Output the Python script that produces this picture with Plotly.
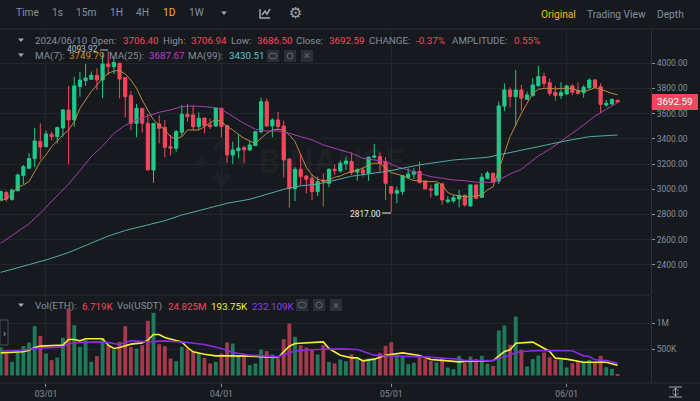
import pandas as pd
import plotly.graph_objects as go

W, H = 700, 401
BG = "#161A1E"
GRID = "#22262B"
LINE = "#2B2F36"
GREY = "#848E9C"
UP = "#1FC98B"
DOWN = "#F6465D"
FONT = "Roboto"

# Daily ETH/USDT candles
dates = pd.date_range("2024-02-22", "2024-06-10").strftime("%Y-%m-%d").tolist()
opens = [2914, 2973, 2920, 2989, 3108, 3166, 3243, 3380, 3338, 3436, 3417, 3486, 3629, 3550, 3815, 3862, 3873, 3904, 3867, 3994,
         3973, 4000, 3886, 3743, 3523, 3642, 3523, 3153, 3518, 3491, 3338, 3325, 3452, 3595, 3590, 3497, 3565, 3510, 3502, 3642,
         3505, 3272, 3306, 3330, 3312, 3346, 3457, 3695, 3502, 3550, 3502, 3240, 3005, 3158, 3105, 3087, 2981, 3073, 3047, 3158,
         3145, 3202, 3219, 3137, 3153, 3126, 3254, 3259, 3219, 3021, 2968, 2981, 3095, 3119, 3140, 3066, 3002, 2954, 3042, 2901,
         2907, 2923, 2952, 2867, 3034, 2936, 3086, 3126, 3065, 3660, 3788, 3735, 3788, 3714, 3743, 3822, 3894, 3846, 3769, 3743,
         3756, 3820, 3782, 3767, 3806, 3867, 3814, 3669, 3677, 3706.40]
highs = [2988, 2988, 3002, 3126, 3192, 3285, 3484, 3523, 3465, 3457, 3497, 3637, 3820, 3894, 3933, 3994, 3934, 3960, 4085, 4093.92,
         4053, 4005, 3886, 3780, 3677, 3642, 3597, 3523, 3587, 3550, 3431, 3470, 3669, 3677, 3661, 3610, 3565, 3563, 3650, 3648,
         3505, 3378, 3436, 3346, 3386, 3457, 3727, 3722, 3563, 3613, 3544, 3240, 3174, 3280, 3113, 3121, 3100, 3126, 3166, 3198,
         3227, 3259, 3293, 3166, 3179, 3259, 3359, 3290, 3254, 3021, 3021, 3113, 3166, 3166, 3219, 3066, 3034, 3047, 3052, 2946,
         2954, 2994, 2952, 3039, 3034, 3126, 3145, 3134, 3695, 3841, 3809, 3947, 3828, 3775, 3880, 3978, 3925, 3880, 3820, 3849,
         3828, 3836, 3849, 3828, 3880, 3875, 3841, 3708, 3719, 3706.94]
lows = [2914, 2901, 2909, 2981, 3041, 3166, 3174, 3237, 3333, 3386, 3364, 3417, 3200, 3497, 3735, 3820, 3867, 3788, 3722, 3907,
        3915, 3722, 3571, 3470, 3412, 3449, 3153, 3052, 3364, 3253, 3267, 3298, 3417, 3536, 3470, 3470, 3444, 3478, 3497, 3412,
        3206, 3200, 3248, 3206, 3304, 3346, 3444, 3497, 3412, 3470, 3094, 2854, 2906, 3026, 2967, 2914, 2946, 2862, 3015, 3113,
        3132, 3153, 3113, 3068, 3100, 3066, 3245, 3140, 2915, 2817, 2888, 2954, 3079, 3079, 3047, 3002, 2933, 2946, 2875, 2888,
        2893, 2856, 2862, 2862, 2920, 2928, 3078, 3055, 3042, 3621, 3650, 3497, 3624, 3708, 3735, 3814, 3809, 3740, 3703, 3716,
        3748, 3748, 3753, 3727, 3793, 3801, 3603, 3656, 3669, 3686.50]
closes = [2981, 2920, 2994, 3113, 3179, 3243, 3383, 3335, 3439, 3417, 3489, 3629, 3550, 3820, 3867, 3883, 3904, 3867, 3994, 3973,
          4005, 3875, 3735, 3523, 3642, 3523, 3153, 3523, 3483, 3333, 3325, 3457, 3595, 3576, 3497, 3563, 3505, 3497, 3642, 3497,
          3272, 3312, 3327, 3312, 3351, 3457, 3695, 3502, 3550, 3497, 3232, 3007, 3158, 3100, 3079, 2981, 3060, 3060, 3158, 3148,
          3206, 3224, 3132, 3153, 3126, 3254, 3264, 3206, 3047, 2968, 2989, 3108, 3121, 3140, 3052, 3002, 2994, 3042, 2915, 2915,
          2933, 2949, 2875, 3034, 2928, 3095, 3128, 3060, 3661, 3788, 3735, 3788, 3722, 3748, 3828, 3894, 3841, 3761, 3743, 3767,
          3820, 3769, 3761, 3809, 3867, 3809, 3674, 3682, 3714, 3692.59]

# Moving averages, read at the candle indices where the line was legible
ma7 = [2906, 2925, 2962, 3012, 3034, 3060, 3139, 3219, 3272, 3338, 3383, 3431, 3470, 3536, 3642, 3708, 3775, 3828, 3881, 3920,
       3939, 3941, 3915, 3867, 3801, 3708, 3629, 3550, 3510, 3470, 3417, 3399, 3417, 3470, 3470, 3470, 3497, 3529, 3555, 3536,
       3497, 3470, 3436, 3404, 3383, 3364, 3404, 3444, 3470, 3476, 3470, 3431, 3378, 3272, 3174, 3113, 3079, 3066, 3073, 3095,
       3105, 3126, 3140, 3148, 3166, 3193, 3206, 3206, 3166, 3132, 3119, 3108, 3087, 3068, 3068, 3060, 3060, 3060, 3034, 2973,
       2954, 2946, 2941, 2941, 2946, 2954, 2994, 3020, 3153, 3285, 3417, 3510, 3603, 3682, 3761, 3793, 3801, 3801, 3796, 3801,
       3801, 3801, 3783, 3775, 3788, 3806, 3793, 3775, 3761, 3749.79]
ma25_idx = [0, 2, 5, 7, 9, 10, 12, 14, 16, 18, 20, 22, 24, 26, 28, 30, 32, 34, 36, 38, 39, 41, 43, 45, 47, 49, 51, 53, 55, 57, 59,
            62, 64, 66, 68, 70, 72, 74, 76, 78, 80, 82, 84, 86, 87, 88, 90, 92, 94, 95, 97, 99, 101, 103, 105, 107, 109]
ma25 = [2571, 2630, 2725, 2810, 2905, 2950, 3041, 3147, 3259, 3343, 3444, 3507, 3550, 3581, 3611, 3630, 3656, 3661, 3656, 3648, 3634,
        3576, 3523, 3476, 3462, 3462, 3444, 3417, 3391, 3351, 3325, 3285, 3246, 3232, 3219, 3179, 3153, 3126, 3100, 3087, 3073, 3068,
        3055, 3055, 3052, 3073, 3121, 3158, 3232, 3264, 3317, 3378, 3444, 3510, 3581, 3634, 3687.67]
ma99_idx = [0, 5, 8, 12, 15, 19, 22, 26, 29, 32, 35, 40, 44, 47, 50, 53, 56, 58, 62, 68, 74, 80, 86, 88, 92, 96, 100, 104, 109]
ma99 = [2340, 2405, 2438, 2497, 2552, 2628, 2672, 2720, 2750, 2795, 2832, 2888, 2920, 2959, 2999, 3026, 3041, 3060, 3103, 3140, 3193,
        3232, 3253, 3272, 3311, 3351, 3385, 3417, 3430.51]

# Volume pane, values in thousands
volume = [534, 420, 261, 432, 560, 630, 941, 757, 420, 293, 343, 719, 1278, 960, 547, 674, 261, 369, 706, 579,
          496, 642, 941, 547, 515, 579, 1043, 1196, 598, 560, 324, 273, 547, 515, 464, 420, 337, 229, 261, 420,
          630, 610, 375, 356, 197, 229, 496, 464, 401, 324, 693, 992, 738, 579, 534, 496, 401, 579, 261, 229,
          305, 273, 407, 324, 273, 324, 324, 432, 566, 636, 388, 356, 216, 242, 369, 312, 280, 248, 337, 153,
          121, 375, 235, 362, 312, 375, 223, 184, 859, 954, 585, 1126, 490, 172, 312, 382, 439, 350, 299, 299,
          153, 235, 280, 248, 299, 248, 375, 159, 127, 30]
vol_fast_idx = [0, 2, 4, 5, 6, 7, 9, 11, 12, 13, 14, 15, 17, 18, 19, 20, 21, 23, 25, 26, 27, 28, 29, 31, 32, 33, 34, 36, 38, 40, 41, 44,
                49, 50, 51, 52, 54, 57, 58, 60, 62, 63, 64, 66, 68, 71, 74, 76, 79, 81, 82, 87, 89, 90, 91, 94, 97, 98, 100, 103, 107, 109]
vol_fast = [432, 445, 452, 483, 534, 560, 566, 579, 687, 687, 661, 700, 700, 700, 579, 515, 534, 598, 623, 674, 782, 782, 725, 661, 642, 534,
            452, 407, 375, 375, 375, 369, 343, 452, 560, 610, 623, 642, 515, 388, 337, 337, 280, 312, 388, 432, 382, 305, 280, 261, 267, 286,
            458, 490, 617, 636, 458, 331, 312, 254, 254, 193.75]
vol_slow_idx = [0, 4, 6, 9, 11, 12, 14, 17, 19, 21, 23, 26, 29, 33, 36, 39, 40, 41, 44, 49, 51, 53, 57, 60, 63, 66, 68, 71, 75, 79, 81, 82,
                87, 89, 90, 91, 94, 97, 101, 103, 104, 105, 107, 109]
vol_slow = [464, 483, 515, 534, 547, 610, 630, 642, 630, 591, 661, 642, 661, 630, 591, 515, 470, 439, 388, 356, 439, 483, 502, 509, 496, 388,
            375, 369, 356, 324, 312, 286, 286, 362, 382, 445, 471, 477, 471, 375, 362, 299, 286, 232.109]

price_ticks = [2400, 2600, 2800, 3000, 3200, 3400, 3600, 3800, 4000]
price_labels = ["2400.00", "2600.00", "2800.00", "3000.00", "3200.00", "3400.00", "3600.00", "3800.00", "4000.00"]
vol_ticks = [500, 1000]
vol_labels = ["500K", "1M"]
date_ticks = ["2024-03-01", "2024-04-01", "2024-05-01", "2024-06-01"]
date_labels = ["03/01", "04/01", "05/01", "06/01"]


def at(idx):
    return [dates[i] for i in idx]


def px(x):
    return x / W


def py(y):
    return 1 - y / H


annotations = []
shapes = []


def label(x, y, text, color=GREY, size=9.8, anchor="left", family=FONT, bold=False):
    if bold:
        text = f"<b>{text}</b>"
    annotations.append(dict(x=px(x), y=py(y), xref="paper", yref="paper", text=text, showarrow=False,
                            xanchor=anchor, yanchor="middle", borderpad=0,
                            font=dict(color=color, size=size, family=family)))


def hline(x0, x1, y, color=LINE, width=1):
    shapes.append(dict(type="line", xref="paper", yref="paper", x0=px(x0), x1=px(x1), y0=py(y), y1=py(y),
                       line=dict(color=color, width=width)))


def poly(points, fill=None, color=None, width=1, closed=True):
    d = "M" + "L".join(f"{px(a):.5f},{py(b):.5f}" for a, b in points) + ("Z" if closed else "")
    shapes.append(dict(type="path", xref="paper", yref="paper", path=d, layer="below" if fill == WM else "above",
                       fillcolor=fill if fill else "rgba(0,0,0,0)", line=dict(color=color if color else "rgba(0,0,0,0)", width=width)))


def box(x0, y0, x1, y1, fill=None, color=None):
    shapes.append(dict(type="rect", xref="paper", yref="paper", x0=px(x0), x1=px(x1), y0=py(y0), y1=py(y1),
                       fillcolor=fill if fill else "rgba(0,0,0,0)", line=dict(color=color if color else "rgba(0,0,0,0)", width=1)))


def triangle(cx, cy, color="#A0A7B2"):
    poly([(cx - 3, cy - 1.5), (cx + 3, cy - 1.5), (cx, cy + 2)], fill=color)


def icon_buttons(x_start, y):
    for n, glyph in enumerate(["eye", "gear", "x"]):
        x0 = x_start + n * 17
        box(x0, y - 6, x0 + 12, y + 6, fill="#2B2F36")
        if glyph == "eye":
            shapes.append(dict(type="circle", xref="paper", yref="paper", x0=px(x0 + 2), x1=px(x0 + 10), y0=py(y - 3), y1=py(y + 3),
                               line=dict(color="#5E6673", width=1)))
        elif glyph == "gear":
            shapes.append(dict(type="circle", xref="paper", yref="paper", x0=px(x0 + 3), x1=px(x0 + 9), y0=py(y - 3), y1=py(y + 3),
                               line=dict(color="#5E6673", width=1)))
        else:
            label(x0 + 6, y, "×", color="#5E6673", size=11, anchor="center")


WM = "#1D2126"

# Toolbar
for x, t in [(15, "Time"), (51, "1s"), (75, "15m"), (109, "1H"), (135, "4H"), (188, "1W")]:
    label(x, 13, t, size=10.2)
label(162, 13, "1D", color="#F0B90B", size=10.2)
triangle(224, 13)
poly([(260, 9), (260, 18), (270, 18)], color="#A0A7B2", width=1.5, closed=False)
poly([(262, 15), (265, 11), (267, 14), (270, 9)], color="#A0A7B2", width=1.5, closed=False)
label(295, 13, "⚙", color="#A0A7B2", size=15, anchor="center", family="DejaVu Sans")
label(540, 14, "Original", color="#F0B90B", size=10.2)
label(586, 14, "Trading View", size=10.2)
label(656, 14, "Depth", size=10.2)

# Legend rows
triangle(21, 40, color="#A0A7B2")
for x, t, c in [(33.5, "2024/06/10", GREY), (90, "Open:", GREY), (122, "3706.40", DOWN), (162, "High:", GREY), (190, "3706.94", DOWN),
                (230, "Low:", GREY), (256, "3686.50", DOWN), (295, "Close:", GREY), (328, "3692.59", DOWN), (368, "CHANGE:", GREY),
                (415, "-0.37%", DOWN), (451, "AMPLITUDE:", GREY), (513, "0.55%", DOWN)]:
    label(x, 41, t, color=c)
triangle(21, 55, color="#A0A7B2")
for x, t, c in [(33.5, "MA(7):", GREY), (68, "3749.79", "#C98D2F"), (108, "MA(25):", GREY), (148, "3687.67", "#B93FC4"),
                (187, "MA(99):", GREY), (228, "3430.51", "#5CC4C9")]:
    label(x, 56, t, color=c)
icon_buttons(267, 56)
triangle(21, 305, color="#A0A7B2")
for x, t, c in [(33.5, "Vol(ETH):", GREY), (81, "6.719K", DOWN), (116, "Vol(USDT)", GREY), (167, "24.825M", DOWN),
                (210, "193.75K", "#F3EE3A"), (250.7, "232.109K", "#8C3DF0")]:
    label(x, 306, t, color=c)
icon_buttons(296, 305)

# High and low call-outs
label(66, 49, "4093.92", color="#B7BDC6", size=8.4)
hline(100, 108, 50, color="#B7BDC6")
label(349, 214, "2817.00", color="#EAECEF", size=8.4)
hline(382, 391, 213, color="#EAECEF")

# Last price tag
box(652, 94, 698, 110, fill=DOWN)
label(675, 102, "3692.59", color="#FFFFFF", size=9.8, anchor="center")

# Frame lines
hline(0, W, 29)
hline(0, 651, 295)
hline(0, W, 383)

# Side handle and axis reset icon
box(0, 320, 8, 345, fill=BG, color="#474D57")
label(4, 333, "›", color="#A0A7B2", size=10, anchor="center")
hline(669, 682, 387, color="#A0A7B2")
hline(669, 682, 397, color="#A0A7B2")
poly([(675.5, 388), (675.5, 396)], color="#A0A7B2", closed=False)
poly([(672.5, 391), (675.5, 388), (678.5, 391)], color="#A0A7B2", closed=False)
poly([(672.5, 393), (675.5, 396), (678.5, 393)], color="#A0A7B2", closed=False)

# Watermark
poly([(222, 137), (232, 147), (227, 152), (222, 147), (217, 152), (212, 147)], fill=WM)
poly([(222, 156), (228, 162), (222, 168), (216, 162)], fill=WM)
poly([(202, 156), (208, 162), (202, 168), (196, 162)], fill=WM)
poly([(242, 156), (248, 162), (242, 168), (236, 162)], fill=WM)
poly([(222, 187), (212, 177), (217, 172), (222, 177), (227, 172), (232, 177)], fill=WM)
label(258, 162, "BINANCE", color="rgba(255,255,255,0.04)", size=32, family="Inter", bold=True)

fig = go.Figure()
fig.add_trace(go.Candlestick(
    x=dates, open=opens, high=highs, low=lows, close=closes, xaxis="x", yaxis="y",
    increasing=dict(line=dict(color=UP, width=1), fillcolor=UP),
    decreasing=dict(line=dict(color=DOWN, width=1), fillcolor=DOWN),
    whiskerwidth=0, showlegend=False,
))
fig.add_trace(go.Scatter(x=dates, y=ma7, mode="lines", line=dict(color="#B98A3E", width=1), xaxis="x", yaxis="y", showlegend=False))
fig.add_trace(go.Scatter(x=at(ma25_idx), y=ma25, mode="lines", line=dict(color="#A63DB0", width=1), xaxis="x", yaxis="y", showlegend=False))
fig.add_trace(go.Scatter(x=at(ma99_idx), y=ma99, mode="lines", line=dict(color="#4FA9AA", width=1), xaxis="x", yaxis="y", showlegend=False))

bar_colors = ["#1F7A5B" if c >= o else "#A6394B" for o, c in zip(opens, closes)]
fig.add_trace(go.Bar(x=dates, y=volume, marker=dict(color=bar_colors, line_width=0), xaxis="x2", yaxis="y2", showlegend=False))
fig.add_trace(go.Scatter(x=at(vol_fast_idx), y=vol_fast, mode="lines", line=dict(color="#F3EE3A", width=1.6), xaxis="x2", yaxis="y2", showlegend=False))
fig.add_trace(go.Scatter(x=at(vol_slow_idx), y=vol_slow, mode="lines", line=dict(color="#8A2BE2", width=1.6), xaxis="x2", yaxis="y2", showlegend=False))

x_range = ["2024-02-21 21:00", "2024-06-15 21:36"]
fig.update_layout(
    width=W, height=H, margin=dict(l=0, r=0, t=0, b=0),
    paper_bgcolor=BG, plot_bgcolor=BG,
    font=dict(family=FONT, color=GREY, size=8.5),
    bargap=0.32, boxgap=0.2, showlegend=False,
    annotations=annotations, shapes=shapes,
    xaxis=dict(domain=[0, 651 / W], anchor="y", range=x_range, type="date", rangeslider_visible=False,
               tickvals=date_ticks, showticklabels=False, showgrid=True, gridcolor=GRID, ticks="", zeroline=False),
    yaxis=dict(domain=[py(295), py(30)], anchor="x", side="right", range=[2160, 4264], tickvals=price_ticks, ticktext=price_labels,
               showgrid=True, gridcolor=GRID, ticks="outside", ticklen=3, tickcolor=GREY, showline=True, linecolor=LINE, zeroline=False),
    xaxis2=dict(domain=[0, 651 / W], anchor="y2", range=x_range, type="date", tickvals=date_ticks, ticktext=date_labels,
                showgrid=True, gridcolor=GRID, ticks="outside", ticklen=3, tickcolor=GREY, zeroline=False),
    yaxis2=dict(domain=[py(383), py(296)], anchor="x2", side="right", range=[-143, 1517], tickvals=vol_ticks, ticktext=vol_labels,
                showgrid=True, gridcolor=GRID, ticks="outside", ticklen=3, tickcolor=GREY, showline=True, linecolor=LINE, zeroline=False),
)

fig.write_html("out.html", config=dict(displayModeBar=False), post_script="document.body.style.margin='0';")
